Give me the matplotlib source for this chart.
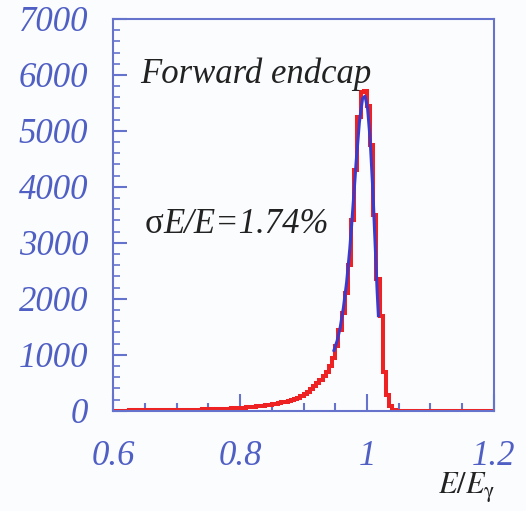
import numpy as np
import matplotlib
matplotlib.use("Agg")
import matplotlib.pyplot as plt
from matplotlib.ticker import MultipleLocator, FixedLocator

# histogram of E/E_gamma, 0.005 wide bins from 0.6 to 1.2
bin_edges = np.linspace(0.6, 1.2, 121)
counts = [
    4, 5, 5, 6, 6, 7, 7, 8, 8, 9,
    9, 10, 10, 11, 12, 12, 13, 14, 15, 16,
    17, 18, 19, 20, 21, 22, 23, 24, 26, 27,
    28, 30, 31, 33, 35, 37, 39, 42, 45, 48,
    52, 56, 60, 66, 72, 80, 88, 95, 102, 110,
    118, 128, 140, 152, 165, 180, 195, 212, 235, 265,
    300, 340, 385, 435, 490, 550, 620, 700, 800, 950,
    1150, 1450, 1750, 2100, 2600, 3400, 4300, 5250, 5700, 5720,
    5450, 4750, 3500, 2350, 1700, 700, 280, 80, 20, 6,
    3, 2, 1, 1, 0, 0, 0, 0, 0, 0,
    0, 0, 0, 0, 0, 0, 0, 0, 0, 0,
    0, 0, 0, 0, 0, 0, 0, 0, 0, 0,
]

# fitted curve over the peak
fit_x = [0.948, 0.953, 0.958, 0.963, 0.968, 0.973, 0.978, 0.983, 0.988,
         0.993, 0.997, 1.001, 1.005, 1.009, 1.013, 1.016, 1.018]
fit_y = [1080, 1250, 1500, 1850, 2300, 2900, 3650, 4450, 5150,
         5580, 5620, 5400, 4850, 4000, 2950, 2150, 1700]

x_ticks = [0.6, 0.8, 1.0, 1.2]
x_tick_labels = ["0.6", "0.8", "1", "1.2"]
y_ticks = [0, 1000, 2000, 3000, 4000, 5000, 6000, 7000]

frame_col = "#6673cc"
label_col = "#4f5fc4"
bg = "#fbfcfe"
txt_col = "#222222"

plt.rcParams["mathtext.fontset"] = "stix"

fig = plt.figure(figsize=(5.26, 5.11), dpi=100, facecolor=bg)
ax = fig.add_axes([0.215, 0.196, 0.724, 0.767], facecolor=bg)

ax.stairs(counts, bin_edges, color="#ee2222", lw=2.9, baseline=None, zorder=2)
ax.plot(fit_x, fit_y, color="#3a3acc", lw=2.2, zorder=3)

ax.set_xlim(0.6, 1.2)
ax.set_ylim(0, 7000)

ax.xaxis.set_major_locator(FixedLocator(x_ticks))
ax.set_xticklabels(x_tick_labels)
ax.xaxis.set_minor_locator(MultipleLocator(0.05))
ax.yaxis.set_major_locator(FixedLocator(y_ticks))
ax.yaxis.set_minor_locator(MultipleLocator(200))

for s in ax.spines.values():
    s.set_color(frame_col)
    s.set_linewidth(1.5)

ax.tick_params(axis="both", which="both", direction="in", color=frame_col,
               labelcolor=label_col, top=False, right=False)
ax.tick_params(axis="x", which="major", length=12, width=1.5, pad=21)
ax.tick_params(axis="x", which="minor", length=6, width=1.5)
ax.tick_params(axis="y", which="major", length=10, width=1.5, pad=18)
ax.tick_params(axis="y", which="minor", length=5, width=1.2)
for lab in ax.get_xticklabels() + ax.get_yticklabels():
    lab.set_fontfamily("Liberation Serif")
    lab.set_fontstyle("italic")
    lab.set_fontsize(25)

ax.text(0.643, 5860, "Forward endcap", fontfamily="Liberation Serif",
        fontstyle="italic", fontsize=25, color=txt_col, va="baseline")
sig = ax.text(0.649, 3180, "σ", fontfamily="Liberation Serif",
              fontsize=25, color=txt_col, va="baseline")
ax.annotate("E/E=1.74%", xy=(1, 0), xycoords=sig, va="bottom",
            fontfamily="Liberation Serif", fontstyle="italic", fontsize=25,
            color=txt_col)

fig.text(0.832, 0.033, r"$E/E_{\mathrm{\gamma}}$", fontsize=22, color=txt_col)

fig.savefig("out.png", dpi=100, facecolor=bg)
